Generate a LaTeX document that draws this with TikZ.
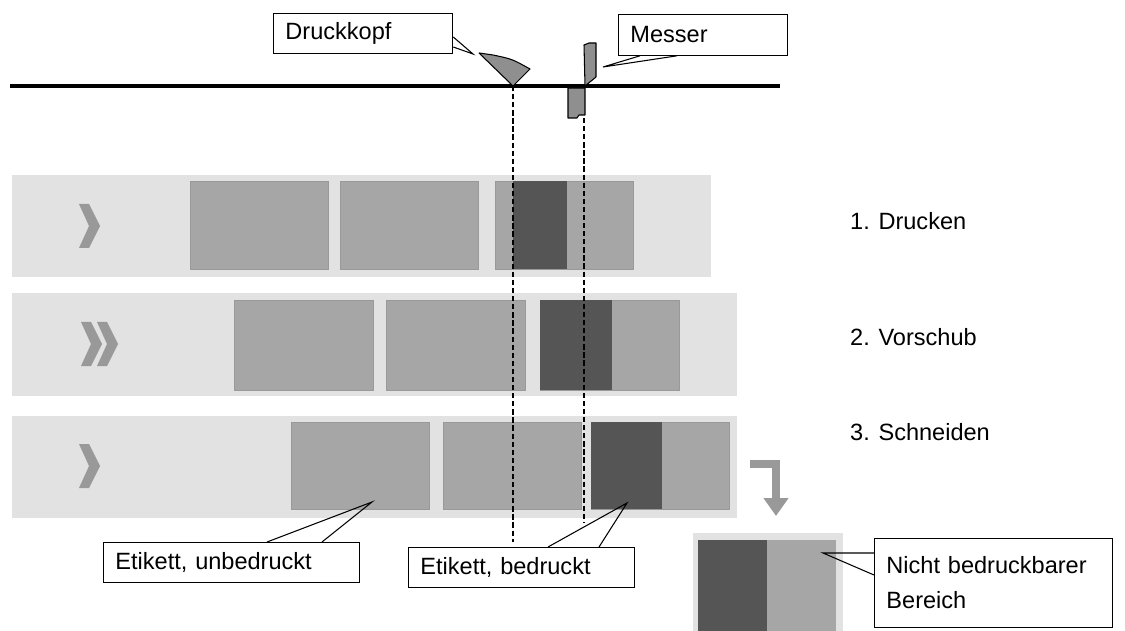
\documentclass[tikz,border=0pt]{standalone}
\usepackage{fontspec}
\setmainfont{Liberation Sans}
\usepackage{tikz}
\usetikzlibrary{arrows.meta,positioning,calc}
\definecolor{stripbg}{RGB}{226,226,226}
\definecolor{blank}{RGB}{166,166,166}
\definecolor{printed}{RGB}{85,85,85}
\definecolor{chev}{RGB}{153,153,153}
\definecolor{tool}{RGB}{143,143,143}

\begin{document}
\begin{tikzpicture}[x=0.02cm,y=-0.02cm,
    strip/.style={fill=stripbg},
    blanklabel/.style={fill=blank,draw=blank!92!black,line width=0.3pt},
    printlabel/.style={fill=printed},
    toolpart/.style={fill=tool,draw=black,line width=0.6pt,line join=round},
    guide/.style={draw=black,line width=1.2pt,dash pattern=on 3pt off 1.6pt},
    callout/.style={draw=black,line width=0.6pt,fill=white,anchor=north west,
                    align=left,inner xsep=6.8pt,font=\fontsize{13.4}{20}\selectfont},
    pointer/.style={draw=black,line width=0.6pt},
    steplabel/.style={anchor=base west,font=\fontsize{13.4}{16}\selectfont},
    cutarrow/.style={draw=chev,line width=4.5pt,line join=miter,
                     -{Triangle[width=13.6pt,length=10.2pt]}},
    chevron/.pic={\fill[chev] (0,-22) -- (10,-22) -- (21,0) -- (10,22) -- (0,22) -- (10,0) -- cycle;}]
  \useasboundingbox (0,0) rectangle (1125,631);

  % transport rail with print head and knife
  \draw[line width=1.8pt] (10,86) -- (780,86);
  \draw[toolpart] (479,53) -- (493,55) .. controls (512,59) .. (530,69) -- (513,86) -- cycle;
  \draw[toolpart] (584,45) -- (589,43) -- (596,43) -- (596,77) -- (585,86) -- cycle;
  \draw[toolpart] (568,88) -- (585,88) -- (585,115) -- (579,115) -- (577,118) -- (568,118) -- cycle;
  \coordinate (headpt) at (513,86);
  \coordinate (knifept) at (584,118);

  % 1. Drucken
  \fill[strip] (12,175) rectangle (711,277);
  \foreach \x in {190,340,495} \draw[blanklabel] (\x,181) rectangle +(138,88);
  \fill[printlabel] (513,181) rectangle (567,269);
  \pic at (79,226) {chevron};

  % 2. Vorschub
  \fill[strip] (12,293) rectangle (737,396);
  \foreach \x in {234,386,540} \draw[blanklabel] (\x,300) rectangle +(139,90);
  \fill[printlabel] (540,300) rectangle (612,390);
  \pic at (81,344) {chevron};
  \pic at (97,344) {chevron};

  % 3. Schneiden
  \fill[strip] (12,416) rectangle (737,518);
  \foreach \x in {291,443,591} \draw[blanklabel] (\x,422) rectangle +(138.5,87);
  \fill[printlabel] (591,422) rectangle (662,509);
  \pic at (79,466) {chevron};

  % cut off piece
  \fill[strip] (693,533) rectangle (843,631);
  \fill[printlabel] (698,540) rectangle (767,631);
  \fill[blank] (767,540) rectangle (836,631);
  \coordinate (arrowfrom) at (750,464);
  \coordinate (arrowto) at (776,516);
  \draw[cutarrow] (arrowfrom) -| (arrowto);

  \node[steplabel] (step1) at (844,230) {1. Drucken};
  \node[steplabel] (step2) at (844,345) {2. Vorschub};
  \node[steplabel] (step3) at (844,440) {3. Schneiden};

  \coordinate (headend) at (513,542);
  \coordinate (knifeend) at (584,523);
  \draw[guide] (headpt) -- (headend);
  \draw[guide] (knifept) -- (knifeend);

  \node[callout,text width=88.4pt,minimum height=22.7pt] (headbox) at (273,13) {Druckkopf};
  \node[callout,text width=82.8pt,minimum height=23.2pt] (knifebox) at (618,14) {Messer};
  \node[callout,text width=132.1pt,minimum height=22.7pt] (blankbox) at (103,542) {Etikett, unbedruckt};
  \node[callout,text width=115.1pt,minimum height=22.7pt] (printbox) at (408,547) {Etikett, bedruckt};
  \node[callout,text width=121.9pt,minimum height=50.5pt] (zonebox) at (874,538) {Nicht bedruckbarer\\Bereich};

  \coordinate (headtip) at (473,54);
  \coordinate (knifetip) at (603,67);
  \coordinate (blanktip) at (372,502);
  \coordinate (printtip) at (627,503);
  \coordinate (zonetip) at (823,553);
  \draw[pointer] ($(headbox.north east)+(0,24)$) -- (headtip) -- ($(headbox.north east)+(0,34)$);
  \draw[pointer] ($(knifebox.south west)+(22,0)$) -- (knifetip) -- ($(knifebox.south west)+(59,0)$);
  \draw[pointer] ($(blankbox.north west)+(164,0)$) -- (blanktip) -- ($(blankbox.north west)+(219,0)$);
  \draw[pointer] ($(printbox.north west)+(140,0)$) -- (printtip) -- ($(printbox.north west)+(191,0)$);
  \draw[pointer] ($(zonebox.north west)+(0,15)$) -- (zonetip) -- ($(zonebox.north west)+(0,37)$);
\end{tikzpicture}
\end{document}
